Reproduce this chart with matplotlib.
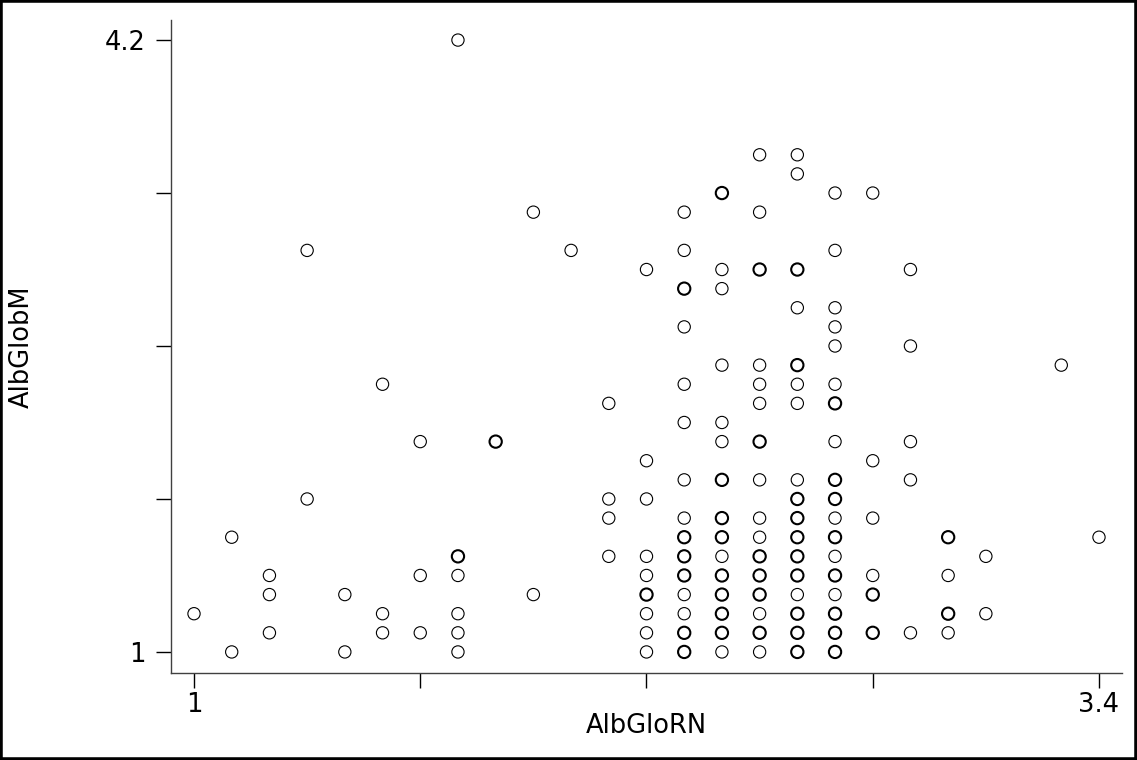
import matplotlib.pyplot as plt
from matplotlib.patches import Rectangle

plt.rcParams['font.family'] = ['DejaVu Sans']

# AlbGloRN (x), AlbGlobM (y), and number of cases at each point
albglorn = ([1.0] + [1.1] * 2 + [1.2] * 3 + [1.3] * 2 + [1.4] * 2 + [1.5] * 3 + [1.6] * 3
            + [1.7] * 6 + [1.8] + [1.9] * 2 + [2.0] + [2.1] * 4 + [2.2] * 9 + [2.3] * 15
            + [2.4] * 15 + [2.5] * 16 + [2.6] * 17 + [2.7] * 18 + [2.8] * 6 + [2.9] * 5
            + [3.0] * 4 + [3.1] * 2 + [3.3] + [3.4])
albglobm = [1.2,
            1.6, 1.0,
            1.4, 1.3, 1.1,
            3.1, 1.8,
            1.3, 1.0,
            2.4, 1.2, 1.1,
            2.1, 1.4, 1.1,
            4.2, 1.5, 1.4, 1.2, 1.1, 1.0,
            2.1,
            3.3, 1.3,
            3.1,
            2.3, 1.8, 1.7, 1.5,
            3.0, 2.0, 1.8, 1.5, 1.4, 1.3, 1.2, 1.1, 1.0,
            3.3, 3.1, 2.9, 2.7, 2.4, 2.2, 1.9, 1.7, 1.6, 1.5, 1.4, 1.3, 1.2, 1.1, 1.0,
            3.4, 3.0, 2.9, 2.5, 2.2, 2.1, 1.9, 1.7, 1.6, 1.5, 1.4, 1.3, 1.2, 1.1, 1.0,
            3.6, 3.3, 3.0, 2.5, 2.4, 2.3, 2.1, 1.9, 1.7, 1.6, 1.5, 1.4, 1.3, 1.2, 1.1, 1.0,
            3.6, 3.5, 3.0, 2.8, 2.5, 2.4, 2.3, 1.9, 1.8, 1.7, 1.6, 1.5, 1.4, 1.3, 1.2, 1.1, 1.0,
            3.4, 3.1, 2.8, 2.7, 2.6, 2.4, 2.3, 2.1, 1.9, 1.8, 1.7, 1.6, 1.5, 1.4, 1.3, 1.2, 1.1, 1.0,
            3.4, 2.0, 1.7, 1.4, 1.3, 1.1,
            3.0, 2.6, 2.1, 1.9, 1.1,
            1.6, 1.4, 1.2, 1.1,
            1.5, 1.2,
            2.5,
            1.6]
counts = [1,
          1, 1,
          1, 1, 1,
          1, 1,
          1, 1,
          1, 1, 1,
          1, 1, 1,
          1, 2, 1, 1, 1, 1,
          2,
          1, 1,
          1,
          1, 1, 1, 1,
          1, 1, 1, 1, 1, 2, 1, 1, 1,
          1, 1, 2, 1, 1, 1, 1, 1, 2, 2, 2, 1, 1, 2, 2,
          2, 1, 1, 1, 1, 1, 2, 2, 2, 1, 2, 2, 2, 2, 1,
          1, 1, 2, 1, 1, 1, 2, 1, 1, 1, 2, 2, 2, 1, 2, 1,
          1, 1, 2, 1, 2, 1, 1, 1, 2, 2, 2, 2, 2, 1, 2, 2, 2,
          1, 1, 1, 1, 1, 1, 2, 1, 2, 2, 1, 2, 1, 2, 1, 2, 2, 2,
          1, 1, 1, 1, 2, 2,
          1, 1, 1, 1, 1,
          2, 1, 2, 1,
          1, 1,
          1,
          1]

x_ticks = [1, 1.6, 2.2, 2.8, 3.4]
x_tick_labels = ['1', '', '', '', '3.4']
y_ticks = [1, 1.8, 2.6, 3.4, 4.2]
y_tick_labels = ['1', '', '', '', '4.2']

fig = plt.figure(figsize=(11.37, 7.6), dpi=100)
ax = fig.add_axes([0.1504, 0.1145, 0.8364, 0.8592])

# heavier rim where cases overlap
widths = [0.8 if n == 1 else 1.5 for n in counts]
ax.scatter(albglorn, albglobm, s=78, facecolors='none', edgecolors='black', linewidths=widths, zorder=3)

ax.set_xlim(0.939, 3.461)
ax.set_ylim(0.890, 4.305)
ax.set_xticks(x_ticks)
ax.set_xticklabels(x_tick_labels)
ax.set_yticks(y_ticks)
ax.set_yticklabels(y_tick_labels)

for side in ['top', 'right']:
    ax.spines[side].set_visible(False)
for side in ['left', 'bottom']:
    ax.spines[side].set_color('#404040')
    ax.spines[side].set_linewidth(1.0)

ax.tick_params(axis='both', length=10.5, width=1.0, color='black', labelsize=18.5)
ax.tick_params(axis='x', pad=3)
ax.tick_params(axis='y', pad=8)

ax.set_xlabel('AlbGloRN', fontsize=18.5)
ax.set_ylabel('AlbGlobM', fontsize=18.5)
ax.xaxis.set_label_coords(0.5, -0.062)
ax.yaxis.set_label_coords(-0.143, 0.5)

# frame around the whole picture
fig.patches.append(Rectangle((0, 0), 1, 1, transform=fig.transFigure, fill=False,
                             edgecolor='black', linewidth=4))

fig.savefig('out.png', dpi=100)
